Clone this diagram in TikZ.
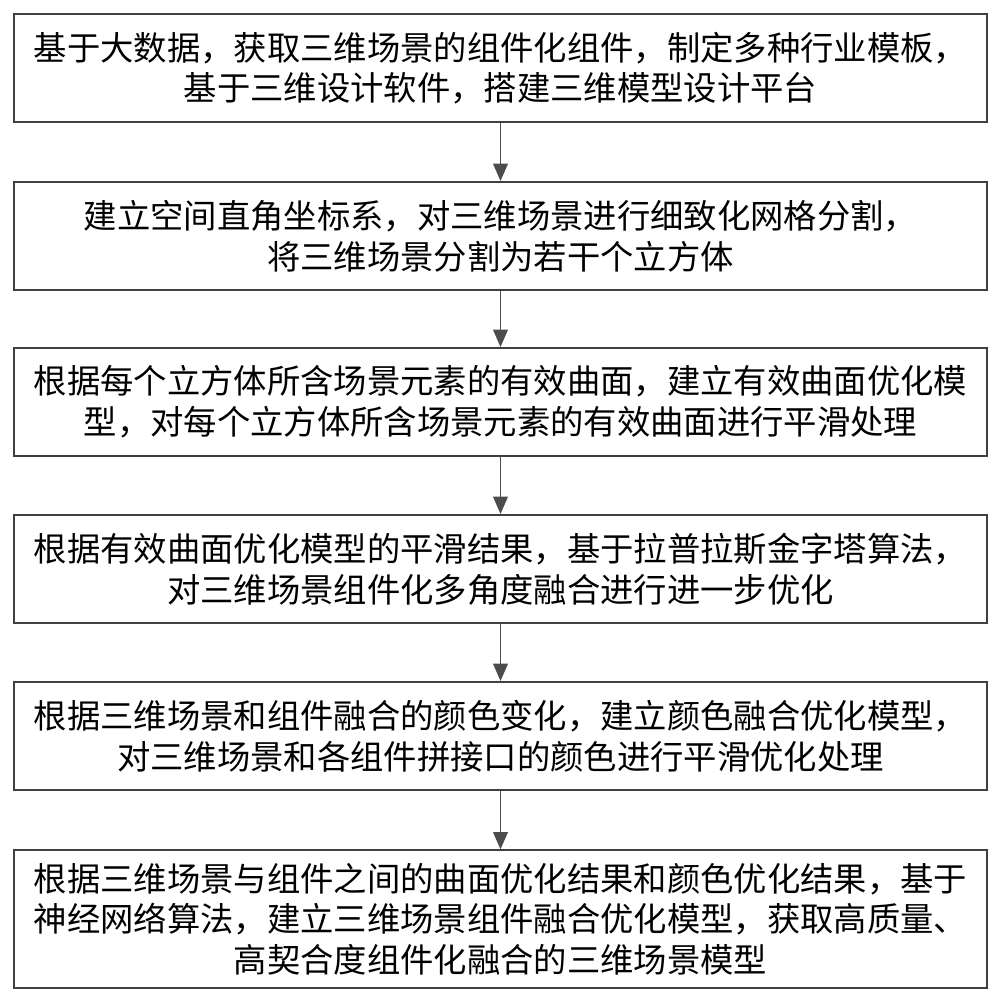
\documentclass[tikz,border=0pt]{standalone}
\usepackage{fontspec}
\setmainfont{Noto Sans CJK SC}
\usetikzlibrary{arrows.meta,positioning}

\begin{document}
\begin{tikzpicture}[x=0.75pt, y=-0.75pt]
  \tikzstyle{stepbox}=[rectangle, draw=black!75, line width=1.5pt, minimum width=729.75pt, inner sep=0pt, align=center, font=\fontsize{25pt}{30.5pt}\selectfont]
  \tikzstyle{flow}=[-{Triangle[length=13pt,width=11pt]}, line width=1.3pt, draw=black!70]
  \useasboundingbox (0,0) rectangle (999,1000);

  % Schritte
  \node[stepbox, minimum height=81pt] (s1) at (500.5,68) {基于大数据，获取三维场景的组件化组件，制定多种行业模板，\\基于三维设计软件，搭建三维模型设计平台};
  \node[stepbox, minimum height=81pt] (s2) at (500.5,236) {建立空间直角坐标系，对三维场景进行细致化网格分割，\\将三维场景分割为若干个立方体};
  \node[stepbox, minimum height=81pt] (s3) at (500.5,402) {根据每个立方体所含场景元素的有效曲面，建立有效曲面优化模\\型，对每个立方体所含场景元素的有效曲面进行平滑处理};
  \node[stepbox, minimum height=81pt] (s4) at (500.5,569) {根据有效曲面优化模型的平滑结果，基于拉普拉斯金字塔算法，\\对三维场景组件化多角度融合进行进一步优化};
  \node[stepbox, minimum height=81pt] (s5) at (500.5,736) {根据三维场景和组件融合的颜色变化，建立颜色融合优化模型，\\对三维场景和各组件拼接口的颜色进行平滑优化处理};
  \node[stepbox, minimum height=103pt] (s6) at (500.5,919) {根据三维场景与组件之间的曲面优化结果和颜色优化结果，基于\\神经网络算法，建立三维场景组件融合优化模型，获取高质量、\\高契合度组件化融合的三维场景模型};

  % Pfeile
  \draw[flow] (s1) -- (s2);
  \draw[flow] (s2) -- (s3);
  \draw[flow] (s3) -- (s4);
  \draw[flow] (s4) -- (s5);
  \draw[flow] (s5) -- (s6);
\end{tikzpicture}
\end{document}
